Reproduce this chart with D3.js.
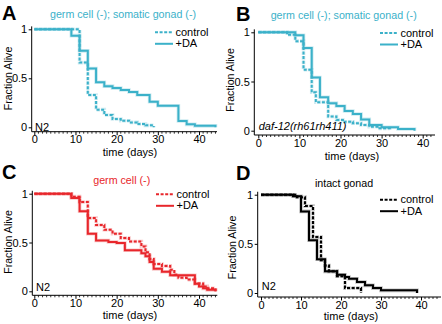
<!DOCTYPE html>
<html>
<head>
<meta charset="utf-8">
<script src="https://cdn.jsdelivr.net/npm/d3@7"></script>
<style>
body { margin: 0; background: #fff; }
svg text { font-family: "Liberation Sans", Arial, sans-serif; }
</style>
</head>
<body>
<div id="chart"></div>
<script>
// survival curves: [day, fraction alive from that day on]
const aControl = [[0,1],[11,0.66],[13,0.33],[15,0.18],[17,0.125],[19,0.085],[21,0.067],[23,0.05],[25,0.034],[27,0.02],[29,0]];
const aDA = [[0,1],[9,0.935],[11,0.78],[13,0.60],[15,0.46],[17,0.42],[19,0.40],[21,0.38],[23,0.36],[25,0.33],[28,0.26],[30,0.22],[35,0.065],[37,0.03],[39,0.015],[44,0]];

const bControl = [[0,1],[7,0.975],[9,0.91],[11,0.62],[13,0.39],[14,0.29],[17,0.145],[19,0.11],[21,0.09],[23,0.075],[25,0.058],[27,0.04],[29,0.024],[32,0]];
const bDA = [[0,1],[9,0.97],[11,0.84],[13,0.54],[15,0.34],[17,0.28],[19,0.25],[21,0.20],[23,0.17],[25,0.115],[27,0.058],[30,0.035],[34,0.017],[38,0]];

const cControl = [[0,1],[9,0.97],[11,0.915],[13,0.75],[15,0.68],[17,0.63],[19,0.59],[21,0.545],[23,0.51],[26,0.46],[27,0.40],[28,0.33],[29,0.28],[31,0.26],[33,0.22],[34,0.17],[35,0.14],[37,0.12],[39,0.08],[41,0.05],[42,0.03],[44,0]];
const cDA = [[0,1],[9,0.956],[11,0.82],[13,0.59],[15,0.52],[18,0.505],[20,0.495],[22,0.42],[26,0.39],[27,0.36],[28,0.30],[29,0.23],[31,0.20],[33,0.165],[39,0.078],[40,0.05],[41,0.03],[42,0.015],[44,0]];

const dControl = [[0,1],[9,0.975],[11,0.885],[13,0.57],[15,0.333],[16,0.28],[17,0.22],[19,0.17],[21,0.05],[25,0]];
const dDA = [[0,1],[8,0.985],[10,0.83],[12,0.536],[14,0.343],[16,0.22],[19,0.186],[21,0.163],[22,0.145],[24,0.112],[26,0.078],[28,0.05],[30,0.027],[39,0]];

const xTicks = [0, 10, 20, 30, 40];
const yTicks = [0, 0.5, 1];
const legendLabels = ["control", "+DA"];

const teal = "#3bb1c9", red = "#e8262b";

const panels = [
  { letter: "A", sub: "germ cell (-); somatic gonad (-)", color: teal, strain: "N2", italic: false,
    control: aControl, da: aDA,
    yAxisX: 31.7, x0: 34.3, x40: 199, xEnd: 217, y1: 29.3, y0: 127.3, xAxisY: 131.7,
    letterX: 2, letterY: 20, subX: 123, subY: 17.5, yLabX: 11.5, yLabY: 78.5, xLabX: 130, xLabY: 156,
    legX: 155, legY: 32.3, strainX: 35, strainY: 130.5 },
  { letter: "B", sub: "germ cell (-); somatic gonad (-)", color: teal, strain: "daf-12(rh61rh411)", italic: true,
    control: bControl, da: bDA,
    yAxisX: 254.3, x0: 258.3, x40: 422.7, xEnd: 435, y1: 32.3, y0: 130.7, xAxisY: 135,
    letterX: 236, letterY: 21, subX: 343.7, subY: 18.5, yLabX: 234, yLabY: 80, xLabX: 352, xLabY: 160,
    legX: 380, legY: 33, strainX: 258.7, strainY: 129.5 },
  { letter: "C", sub: "germ cell (-)", color: red, strain: "N2", italic: false,
    control: cControl, da: cDA,
    yAxisX: 32.3, x0: 34.3, x40: 199, xEnd: 217.3, y1: 193.7, y0: 291.3, xAxisY: 295.3,
    letterX: 2, letterY: 179, subX: 121.7, subY: 183.5, yLabX: 11.7, yLabY: 242, xLabX: 130, xLabY: 319.3,
    legX: 156, legY: 194.3, strainX: 36, strainY: 291 },
  { letter: "D", sub: "intact gonad", color: "#000", strain: "N2", italic: false,
    control: dControl, da: dDA,
    yAxisX: 257.7, x0: 261, x40: 421, xEnd: 441, y1: 194.7, y0: 293, xAxisY: 297,
    letterX: 236, letterY: 180, subX: 344, subY: 186.5, yLabX: 236, yLabY: 247.5, xLabX: 351, xLabY: 320,
    legX: 380, legY: 199.7, strainX: 261.7, strainY: 290 }
];

const svg = d3.select("#chart").append("svg")
    .attr("width", 442)
    .attr("height", 324);

panels.forEach(p => {
    let g = svg.append("g");

    let x = d3.scaleLinear().domain([0, 40]).range([p.x0, p.x40]);
    let y = d3.scaleLinear().domain([0, 1]).range([p.y0, p.y1]);

    // axis lines
    g.append("line")
        .attr("x1", p.yAxisX).attr("x2", p.yAxisX)
        .attr("y1", y(1.03)).attr("y2", p.xAxisY)
        .attr("stroke", "#000").attr("stroke-width", 1);
    g.append("line")
        .attr("x1", p.yAxisX).attr("x2", p.xEnd)
        .attr("y1", p.xAxisY).attr("y2", p.xAxisY)
        .attr("stroke", "#000").attr("stroke-width", 1);

    // x axis
    let xa = g.append("g")
        .attr("transform", "translate(0," + p.xAxisY + ")")
        .call(d3.axisBottom(x).tickValues(xTicks).tickSize(3.5).tickPadding(0.5).tickSizeOuter(0));
    xa.select(".domain").remove();
    xa.selectAll("text").attr("font-size", 11).attr("font-family", null).attr("fill", "#000");

    let minor = d3.range(1, x.invert(p.xEnd), 1).filter(d => d % 10 !== 0);
    g.selectAll(".minor")
        .data(minor)
        .enter()
        .append("line")
        .attr("x1", d => x(d)).attr("x2", d => x(d))
        .attr("y1", p.xAxisY).attr("y2", p.xAxisY + 2)
        .attr("stroke", "#000").attr("stroke-width", 0.8);

    // y axis
    let ya = g.append("g")
        .attr("transform", "translate(" + p.yAxisX + ",0)")
        .call(d3.axisLeft(y).tickValues(yTicks).tickSize(3).tickPadding(1.5).tickSizeOuter(0)
            .tickFormat(d => d === 0.5 ? "0.5" : d3.format("d")(d)));
    ya.select(".domain").remove();
    ya.selectAll("text").attr("font-size", 11).attr("font-family", null).attr("fill", "#000");

    // curves (soft halo underneath, like the blurred original)
    let line = d3.line()
        .x(d => x(d[0]))
        .y(d => y(d[1]))
        .curve(d3.curveStepAfter);

    [p.control, p.da].forEach((series, i) => {
        g.append("path")
            .datum(series)
            .attr("d", line)
            .attr("fill", "none")
            .attr("stroke", p.color)
            .attr("stroke-opacity", 0.25)
            .attr("stroke-width", 3.6)
            .attr("stroke-dasharray", i === 0 ? "3.6,1" : null);
        g.append("path")
            .datum(series)
            .attr("d", line)
            .attr("fill", "none")
            .attr("stroke", p.color)
            .attr("stroke-width", 2)
            .attr("stroke-dasharray", i === 0 ? "3,1.6" : null);
    });

    // legend
    legendLabels.forEach((lab, i) => {
        let ly = p.legY + i * 11.5;
        g.append("line")
            .attr("x1", p.legX).attr("x2", p.legX + 18)
            .attr("y1", ly).attr("y2", ly)
            .attr("stroke", p.color).attr("stroke-width", 2)
            .attr("stroke-dasharray", i === 0 ? "3,1.6" : null);
        g.append("text")
            .attr("x", p.legX + 20.5).attr("y", ly + 3.5)
            .attr("font-size", 11)
            .text(lab);
    });

    // texts
    g.append("text")
        .attr("x", p.letterX).attr("y", p.letterY)
        .attr("font-size", 20).attr("font-weight", "bold")
        .text(p.letter);

    g.append("text")
        .attr("x", p.subX).attr("y", p.subY)
        .attr("text-anchor", "middle")
        .attr("font-size", 10.7)
        .attr("fill", p.color)
        .text(p.sub);

    g.append("text")
        .attr("transform", "translate(" + p.yLabX + "," + p.yLabY + ") rotate(-90)")
        .attr("text-anchor", "middle")
        .attr("font-size", 10.6)
        .text("Fraction Alive");

    g.append("text")
        .attr("x", p.xLabX).attr("y", p.xLabY)
        .attr("text-anchor", "middle")
        .attr("font-size", 11)
        .text("time (days)");

    g.append("text")
        .attr("x", p.strainX).attr("y", p.strainY)
        .attr("font-size", 11)
        .attr("font-style", p.italic ? "italic" : null)
        .text(p.strain);
});
</script>
</body>
</html>
